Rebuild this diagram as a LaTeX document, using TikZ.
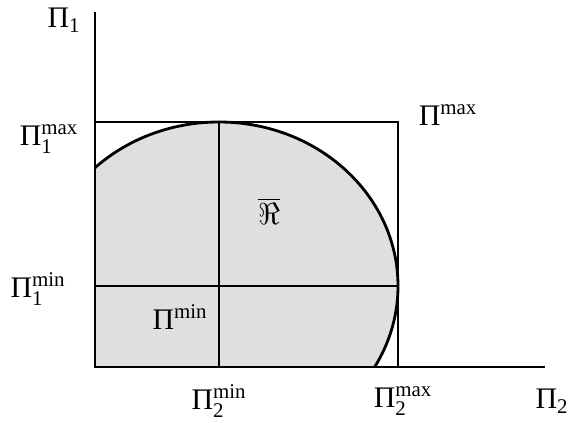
\documentclass[tikz,border=0pt]{standalone}
\usepackage{amsmath}
\usepackage{amssymb}
\usepackage{fontspec}
\setmainfont{Liberation Serif}
\usetikzlibrary{calc}
\newcommand{\Pg}{\text{Π}}

\begin{document}
\begin{tikzpicture}[x={(0.02cm,0)}, y={(0,-0.02cm)},
    lbl/.style={inner sep=0pt, font=\fontsize{17}{20}\selectfont},
    line/.style={line width=1.1pt},
    curve/.style={line width=1.6pt}]
    \useasboundingbox (0,0) rectangle (569,423);
    \coordinate (O) at (95,367);
    \coordinate (Y) at (95,12);
    \coordinate (X) at (545,367);
    \coordinate (T) at (219,122);
    \coordinate (R) at (398,122);
    \coordinate (C) at (219,286);
    \coordinate (L) at (95,286);
    \coordinate (E) at (398,286);
    \coordinate (B) at (219,367);
    \coordinate (D) at (398,367);
    \coordinate (Q) at (95,122);
    % shaded set
    \begin{scope}
        \clip (O) rectangle (569,0);
        \fill[gray!25] (C) ellipse [x radius=179, y radius=164];
    \end{scope}
    \draw[line] (Y) -- (O) -- (X);
    \draw[line] (Q) -- (R) -- (D);
    \draw[line] (T) -- (B);
    \draw[line] (L) -- (E);
    \begin{scope}
        \clip (O) rectangle (569,0);
        \draw[curve] (C) ellipse [x radius=179, y radius=164];
    \end{scope}
    \node[lbl] (p1) at (64,20) {$\Pg_{\text{1}}$};
    \node[lbl] (p1max) at (49,139) {$\Pg_{\text{1}}^{\text{max}}$};
    \node[lbl] (p1min) at (38,289) {$\Pg_{\text{1}}^{\text{min}}$};
    \node[lbl] (pmax) at (448,115) {$\Pg^{\text{max}}$};
    \node[lbl] (pmin) at (180,317) {$\Pg^{\text{min}}$};
    \node[lbl] (rbar) at (269,211) {$\overline{\Re}$};
    \node[lbl] (p2min) at (219,401) {$\Pg_{\text{2}}^{\text{min}}$};
    \node[lbl] (p2max) at (403,401) {$\Pg_{\text{2}}^{\text{max}}$};
    \node[lbl] (p2) at (552,401) {$\Pg_{\text{2}}$};
\end{tikzpicture}
\end{document}
